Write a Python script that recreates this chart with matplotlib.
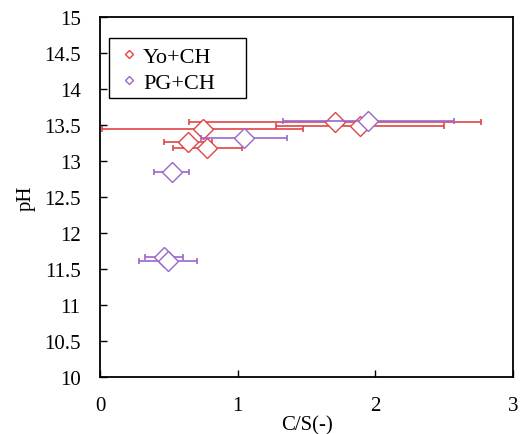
import matplotlib
matplotlib.use("Agg")
from matplotlib import pyplot as plt
from matplotlib.patches import Rectangle

plt.rcParams['font.family'] = ['Liberation Serif', 'DejaVu Serif']

# Yo+CH series
yo_cs = [1.707, 1.888, 0.746, 0.641, 0.779]
yo_ph = [13.54, 13.49, 13.45, 13.27, 13.18]
yo_err = [1.06, 0.61, 0.73, 0.175, 0.25]

# PG+CH series
pg_cs = [1.948, 1.046, 0.52, 0.465, 0.496]
pg_ph = [13.56, 13.32, 12.85, 11.66, 11.61]
pg_err = [0.62, 0.31, 0.127, 0.14, 0.21]

x_ticks = [0, 1, 2, 3]
y_ticks = [10, 10.5, 11, 11.5, 12, 12.5, 13, 13.5, 14, 14.5, 15]

red = "#DF4446"
purple = "#9966CC"

fig = plt.figure(figsize=(5.24, 4.35), dpi=100)
ax = fig.add_axes([0.191, 0.132, 0.788, 0.826])

ax.errorbar(yo_cs, yo_ph, xerr=yo_err, fmt="none", ecolor=red,
            elinewidth=1.2, capsize=2.5, capthick=1.2, zorder=2)
ax.plot(yo_cs, yo_ph, linestyle="none", marker="D", markersize=10,
        markerfacecolor="white", markeredgecolor=red, markeredgewidth=1.0,
        zorder=3)
ax.errorbar(pg_cs, pg_ph, xerr=pg_err, fmt="none", ecolor=purple,
            elinewidth=1.2, capsize=2.5, capthick=1.2, zorder=4)
ax.plot(pg_cs, pg_ph, linestyle="none", marker="D", markersize=10,
        markerfacecolor="white", markeredgecolor=purple, markeredgewidth=1.0,
        zorder=5)

# legend proxies
ax.plot([], [], linestyle="none", marker="D", markersize=4.5,
        markerfacecolor="white", markeredgecolor=red, label="Yo+CH")
ax.plot([], [], linestyle="none", marker="D", markersize=4.5,
        markerfacecolor="white", markeredgecolor=purple, label="PG+CH")

ax.set_xlim(0, 3)
ax.set_ylim(10, 15)
ax.set_xticks(x_ticks)
ax.set_yticks(y_ticks)
ax.set_yticklabels([("%g" % v) for v in y_ticks])
ax.tick_params(direction="in", length=5, width=1, labelsize=15,
               top=False, right=False)
ax.tick_params(axis="x", pad=14)
ax.tick_params(axis="y", pad=14)

for side in ax.spines:
    ax.spines[side].set_linewidth(1.3)
    ax.spines[side].set_color("black")

ax.set_xlabel("C/S(-)", fontsize=15, labelpad=0)
ax.set_ylabel("pH", fontsize=15, labelpad=6)

""" legend, wide box like the original """
leg = ax.legend(loc="upper left", bbox_to_anchor=(0.042, 0.92), fontsize=16,
                frameon=False, handlelength=1.0, handletextpad=0.15,
                borderpad=0.0, labelspacing=0.27, borderaxespad=0)
ax.add_patch(Rectangle((0.022, 0.775), 0.331, 0.167, transform=ax.transAxes,
                       fill=False, edgecolor="black", linewidth=1.0, zorder=6))

plt.savefig("out.png", dpi=100)
